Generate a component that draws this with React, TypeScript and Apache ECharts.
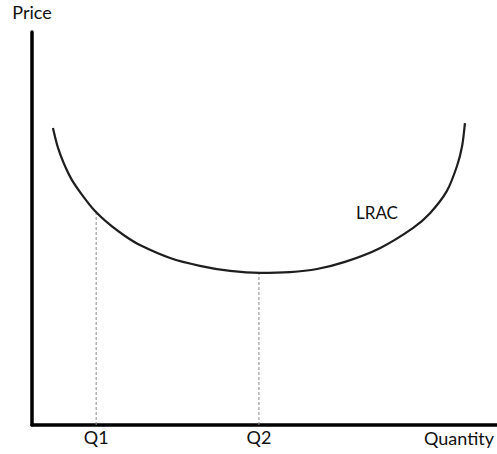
import React, { useEffect, useRef } from "react";
import * as echarts from "echarts";

// LRAC curve (Quantity 0-100, Price 0-100)
const lracQuantity = [4.5, 5.6, 6.9, 8.6, 10.8, 13.5, 16.8, 20.0, 23.2, 29.7, 36.1, 42.6, 49.0, 55.5, 61.3, 67.3, 74.8, 81.9, 85.6, 89.2, 91.4, 92.5, 93.1];
const lracPrice = [75.6, 70.5, 66.4, 62.3, 58.5, 54.5, 50.9, 48.1, 45.8, 42.5, 40.5, 39.2, 38.7, 38.9, 39.7, 41.5, 45.0, 50.1, 53.9, 59.5, 65.9, 71.0, 76.8];

// Quantity markers and their costs on the curve
const markerNames = ["Q1", "Q2"];
const markerQuantity = [13.8, 48.8];
const markerPrice = [54.2, 38.7];

const xAxisName = "Quantity";
const yAxisName = "Price";
const curveName = "LRAC";

export default function App() {
  const ref = useRef<HTMLDivElement>(null);
  useEffect(() => {
    if (!ref.current) return;
    const chart = echarts.init(ref.current, null, { renderer: "svg" });
    const font = "Lato, 'Open Sans', sans-serif";
    const curve = lracQuantity.map((q, i) => [q, lracPrice[i]]);
    const markerSeries = markerQuantity.map((q, i) => ({
      type: "line",
      data: [
        [q, 0],
        [q, markerPrice[i]],
      ],
      symbol: "none",
      silent: true,
      lineStyle: { color: "#8a8a8a", width: 1, type: [3, 2] },
    }));
    chart.setOption({
      animation: false,
      backgroundColor: "#ffffff",
      grid: { left: 32, right: 0, top: 32, bottom: 29 },
      xAxis: {
        type: "value",
        min: 0,
        max: 100,
        name: xAxisName,
        nameLocation: "end",
        nameGap: -3,
        nameTextStyle: {
          fontFamily: font,
          fontSize: 18,
          color: "#111",
          align: "right",
          verticalAlign: "top",
          padding: [4, 0, 0, 0],
        },
        splitLine: { show: false },
        axisTick: { show: false },
        axisLine: { show: true, lineStyle: { color: "#000", width: 3.5 } },
        axisLabel: {
          customValues: markerQuantity,
          formatter: (v: number) => {
            const i = markerQuantity.indexOf(v);
            return i >= 0 ? markerNames[i] : "";
          },
          margin: 3,
          fontFamily: font,
          fontSize: 18,
          color: "#111",
        },
      },
      yAxis: {
        type: "value",
        min: 0,
        max: 100,
        name: yAxisName,
        nameLocation: "end",
        nameGap: 11,
        nameTextStyle: {
          fontFamily: font,
          fontSize: 18,
          color: "#111",
          align: "center",
        },
        splitLine: { show: false },
        axisTick: { show: false },
        axisLabel: { show: false },
        axisLine: { show: true, lineStyle: { color: "#000", width: 3.5 } },
      },
      graphic: [
        {
          type: "text",
          x: 377,
          y: 212,
          style: {
            text: curveName,
            fontFamily: font,
            fontSize: 17,
            fill: "#111",
            align: "center",
            verticalAlign: "middle",
          },
        },
      ],
      series: [
        ...markerSeries,
        {
          type: "line",
          name: curveName,
          data: curve,
          smooth: 0.3,
          symbol: "none",
          silent: true,
          lineStyle: { color: "#1e1e1e", width: 2.2 },
        },
      ],
    });
    return () => chart.dispose();
  }, []);
  return <div ref={ref} style={{ width: 497, height: 454, position: "absolute", left: 0, top: 0 }} />;
}
